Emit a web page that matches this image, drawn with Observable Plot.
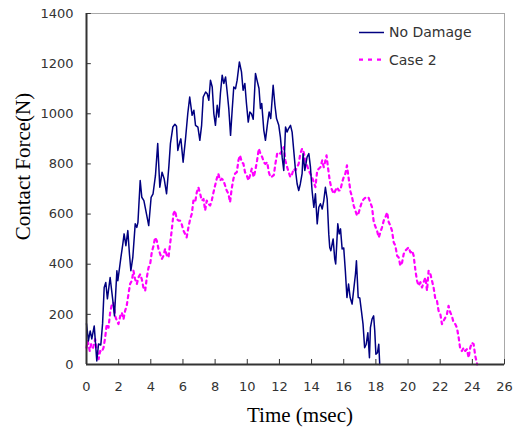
<!DOCTYPE html>
<html><head><meta charset="utf-8">
<script src="https://cdn.jsdelivr.net/npm/d3@7"></script>
<script src="https://cdn.jsdelivr.net/npm/@observablehq/plot@0.6"></script>
<style>body{margin:0;background:#fff} #chart{width:516px;height:429px}</style>
</head><body><div id="chart"></div>
<script>
const noDamageTime = [0,0.12,0.23,0.33,0.48,0.64,0.75,0.89,1.0,1.1,1.2,1.3,1.47,1.64,1.74,1.89,1.95,2.14,2.26,2.34,2.45,2.57,2.67,2.76,2.88,3.03,3.13,3.2,3.34,3.44,3.57,3.73,3.87,4.02,4.14,4.29,4.43,4.56,4.7,4.83,4.98,5.12,5.22,5.37,5.5,5.6,5.68,5.8,5.87,6.01,6.16,6.3,6.42,6.57,6.68,6.78,6.93,7.05,7.16,7.26,7.41,7.51,7.61,7.71,7.82,7.92,8.02,8.13,8.23,8.33,8.44,8.54,8.65,8.75,8.85,8.96,9.06,9.16,9.27,9.37,9.51,9.64,9.74,9.85,9.95,10.06,10.16,10.26,10.37,10.51,10.62,10.73,10.82,10.9,11.03,11.13,11.27,11.36,11.46,11.61,11.72,11.82,11.96,12.06,12.17,12.27,12.38,12.48,12.56,12.69,12.79,12.89,13.0,13.1,13.2,13.3,13.41,13.47,13.58,13.72,13.83,13.93,14.03,14.14,14.24,14.35,14.45,14.55,14.66,14.76,14.86,14.97,15.07,15.13,15.2,15.34,15.44,15.5,15.63,15.72,15.8,15.9,16.0,16.1,16.2,16.3,16.4,16.52,16.6,16.73,16.79,16.9,17.0,17.1,17.2,17.3,17.4,17.5,17.6,17.66,17.76,17.86,17.93,18.0,18.1,18.18,18.24];
const noDamageForce = [163,94,134,102,154,14,82,78,163,307,327,262,347,254,194,374,334,427,481,521,474,534,442,374,427,561,547,567,734,667,654,601,554,667,681,754,881,707,767,741,681,787,881,947,958,950,854,887,900,807,901,1001,1067,994,1014,954,947,894,954,1067,1087,1080,1054,1134,1107,1001,954,1034,987,1081,1154,1121,1147,1087,1021,914,1014,1107,1100,1134,1207,1167,1094,1121,1041,967,1007,1000,978,1161,1130,1101,1021,1041,934,894,967,1007,981,1114,1034,981,954,907,827,774,947,927,940,954,927,854,774,721,694,720,761,841,774,827,841,787,694,627,681,561,627,641,620,654,707,660,520,467,454,501,421,401,561,521,541,461,465,374,267,321,267,241,287,361,414,267,265,214,161,67,81,127,27,147,181,194,134,41,47,81,0];
const case2Time = [0,0.08,0.2,0.29,0.41,0.54,0.64,0.75,0.85,0.95,1.06,1.16,1.26,1.37,1.47,1.58,1.68,1.78,1.89,1.99,2.1,2.2,2.3,2.4,2.5,2.61,2.71,2.82,2.92,3.02,3.13,3.23,3.34,3.44,3.54,3.65,3.75,3.86,3.96,4.06,4.17,4.27,4.37,4.48,4.58,4.69,4.79,4.89,5.0,5.1,5.2,5.3,5.41,5.51,5.61,5.72,5.82,5.92,6.03,6.13,6.23,6.34,6.45,6.55,6.65,6.76,6.86,6.96,7.07,7.17,7.28,7.38,7.48,7.58,7.69,7.79,7.9,8.0,8.1,8.2,8.31,8.41,8.52,8.62,8.72,8.83,8.93,9.03,9.14,9.24,9.35,9.45,9.55,9.66,9.76,9.86,9.97,10.07,10.17,10.28,10.4,10.5,10.61,10.72,10.82,10.93,11.03,11.13,11.24,11.34,11.44,11.55,11.65,11.75,11.86,11.96,12.06,12.17,12.27,12.37,12.48,12.58,12.68,12.79,12.89,13.0,13.1,13.2,13.3,13.41,13.51,13.62,13.72,13.82,13.93,14.03,14.14,14.24,14.35,14.45,14.55,14.66,14.76,14.86,14.93,15.03,15.13,15.24,15.38,15.48,15.58,15.69,15.79,15.9,16.0,16.1,16.2,16.31,16.42,16.52,16.62,16.72,16.83,16.93,17.04,17.14,17.25,17.34,17.45,17.55,17.66,17.76,17.87,17.97,18.07,18.18,18.28,18.38,18.49,18.59,18.7,18.8,18.9,19.0,19.11,19.21,19.32,19.42,19.52,19.63,19.73,19.83,19.94,20.04,20.15,20.25,20.35,20.46,20.56,20.66,20.77,20.87,20.97,21.08,21.18,21.28,21.39,21.49,21.59,21.7,21.8,21.9,22.01,22.11,22.21,22.32,22.42,22.52,22.63,22.73,22.83,22.94,23.04,23.15,23.25,23.35,23.46,23.56,23.66,23.77,23.87,23.97,24.08,24.18,24.28,24.3];
const case2Force = [67,94,54,81,67,101,61,21,54,50,67,107,161,147,207,241,247,194,174,161,194,207,180,214,234,281,321,334,374,341,321,347,360,340,307,294,347,387,401,447,474,507,494,461,441,421,434,461,434,427,481,534,601,614,581,574,574,560,534,521,507,547,581,601,654,647,687,707,681,654,660,614,654,641,634,654,687,714,741,761,734,741,734,714,694,681,647,701,741,761,767,814,834,807,801,767,754,734,754,781,747,774,814,861,841,827,807,800,807,767,747,750,755,801,841,847,841,854,867,814,787,767,747,760,781,774,787,801,841,861,847,814,794,774,760,747,727,707,774,781,787,814,787,814,834,781,734,701,681,694,707,694,694,727,747,761,794,741,690,667,634,614,594,605,630,650,660,665,661,665,645,627,567,550,534,507,527,547,574,587,607,567,554,534,487,474,434,427,394,407,441,454,461,467,447,454,434,374,334,314,328,307,328,347,294,374,361,334,307,261,254,214,201,161,174,187,201,234,207,194,167,161,147,107,61,54,67,54,61,27,67,87,81,34,7,0];
const xTicks = [0,2,4,6,8,10,12,14,16,18,20,22,24,26];
const yTicks = [0,200,400,600,800,1000,1200,1400];
const seriesNames = ["No Damage", "Case 2"];
const seriesColors = ["#000080", "#ff00ff"];
const xLabel = "Time (msec)";
const yLabel = "Contact Force(N)";

const noDamage = noDamageTime.map((t, i) => ({t, f: noDamageForce[i]}));
const case2 = case2Time.map((t, i) => ({t, f: case2Force[i]}));

const plot = Plot.plot({
  width: 516, height: 429,
  marginLeft: 86, marginRight: 12, marginTop: 13, marginBottom: 65,
  style: {fontFamily: "DejaVu Sans", fontSize: "13px", color: "#333", background: "#fff"},
  x: {domain: [0, 26]},
  y: {domain: [0, 1400]},
  marks: [
    Plot.frame({stroke: "#a8a8a8"}),
    Plot.line(case2, {x: "t", y: "f", stroke: seriesColors[1], strokeWidth: 2.2, strokeDasharray: "3,4"}),
    Plot.line(noDamage, {x: "t", y: "f", stroke: seriesColors[0], strokeWidth: 1.5}),
    Plot.ruleX(xTicks, {y1: 0, y2: 20, stroke: "#333"}),
    Plot.ruleY(yTicks, {x1: 0, x2: 0.3, stroke: "#333"}),
    Plot.ruleY([0], {stroke: "#333", strokeWidth: 2}),
    Plot.ruleX([0], {stroke: "#333", strokeWidth: 2}),
    Plot.axisX({ticks: xTicks, tickSize: 0, tickPadding: 17, label: null, tickFormat: d => String(d)}),
    Plot.axisY({ticks: yTicks, tickSize: 0, tickPadding: 13, label: null, tickFormat: d => String(d)}),
    Plot.text([xLabel], {text: d => d, frameAnchor: "bottom", textAnchor: "middle", lineAnchor: "middle", dx: 4.5, dy: 51, fontFamily: "Liberation Serif", fontSize: 21, fill: "#000"}),
    Plot.text([yLabel], {text: d => d, frameAnchor: "left", textAnchor: "middle", lineAnchor: "middle", rotate: -90, dx: -63, dy: -22.5, fontFamily: "Liberation Serif", fontSize: 21, fill: "#000"})
  ]
});

const svg = d3.select(plot);
const legendRows = [{y: 32.5, dash: null}, {y: 59.7, dash: "4,5"}];
legendRows.forEach((r, i) => {
  svg.append("line").attr("x1", 359).attr("x2", 384).attr("y1", r.y).attr("y2", r.y)
    .attr("stroke", seriesColors[i]).attr("stroke-width", i ? 2.2 : 1.5)
    .attr("stroke-dasharray", r.dash);
  svg.append("text").attr("x", 389).attr("y", r.y).attr("dy", "0.35em")
    .attr("text-anchor", "start")
    .attr("font-family", "DejaVu Sans").attr("font-size", 14).attr("fill", "#333")
    .text(seriesNames[i]);
});
document.getElementById("chart").appendChild(plot);
</script>
</body></html>
